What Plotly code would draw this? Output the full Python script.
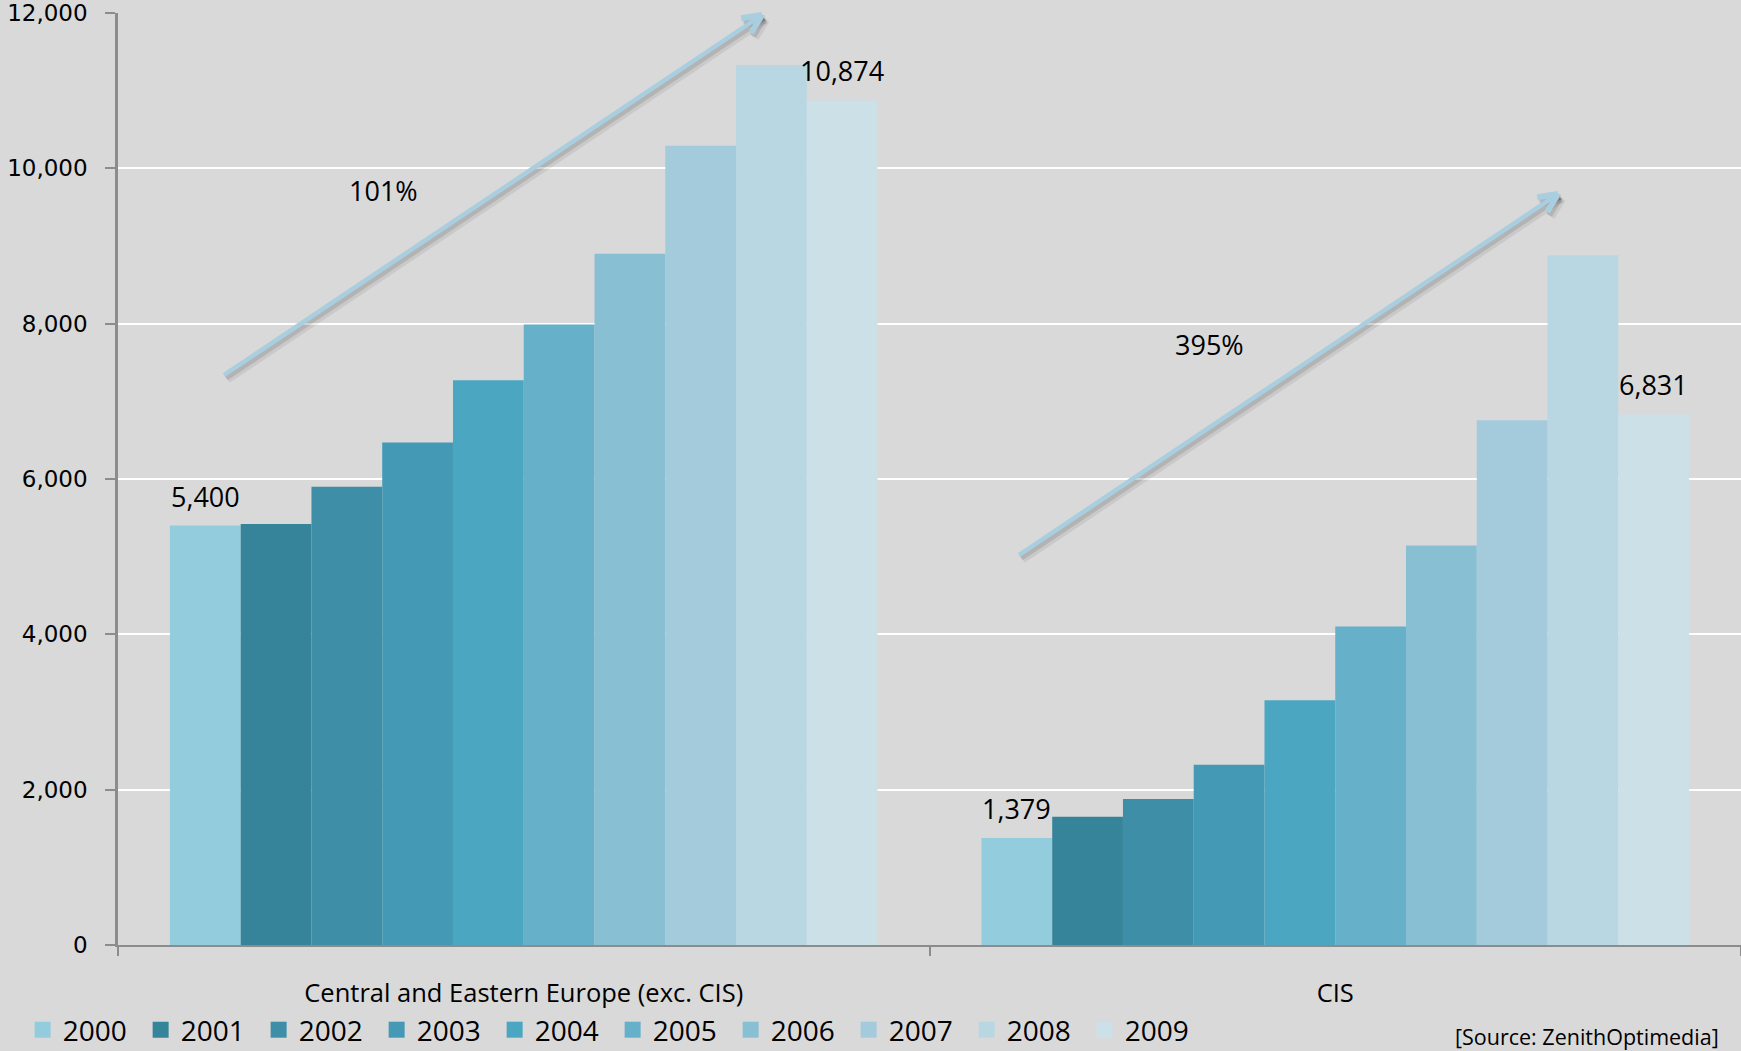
import math
import plotly.graph_objects as go

# Advertising expenditure by region, 2000-2009 (US$ m)
categories = ["Central and Eastern Europe (exc. CIS)", "CIS"]
years = ["2000", "2001", "2002", "2003", "2004", "2005", "2006", "2007", "2008", "2009"]
cee_spend = [5400, 5420, 5900, 6470, 7270, 7990, 8900, 10290, 11330, 10874]
cis_spend = [1379, 1650, 1880, 2320, 3150, 4100, 5145, 6756, 8880, 6831]
year_colors = ["#93CCDD", "#36849A", "#3D8EA6", "#449AB5", "#4AA6C1",
               "#66B0C9", "#89BFD2", "#A3CBDC", "#B8D7E2", "#CCE0E8"]
y_ticks = [0, 2000, 4000, 6000, 8000, 10000, 12000]
source_note = "[Source: ZenithOptimedia]"

W, H = 1741, 1051
ML, MR, MT, MB = 118, 0, 13, 106
PW, PH = W - ML - MR, H - MT - MB
BARGAP = 0.128

BG = "#D9D9D9"
AXIS_GREY = "#8C8C8C"
ARROW_BLUE = "#A8CEE0"
LABEL_FONT = "Open Sans, Liberation Sans, sans-serif"

fig = go.Figure()
for i, yr in enumerate(years):
    fig.add_trace(go.Bar(
        name=yr, legendgroup=yr, showlegend=False,
        x=categories,
        y=[cee_spend[i], cis_spend[i]],
        marker=dict(color=year_colors[i], line=dict(width=0)),
        hoverinfo="skip",
    ))
# Legend keys: larger square swatches than the default bar symbol
for i, yr in enumerate(years):
    fig.add_trace(go.Scatter(
        name=yr, legendgroup=yr, showlegend=True,
        x=[None], y=[None], mode="markers",
        marker=dict(symbol="square", size=16, color=year_colors[i]),
        hoverinfo="skip",
    ))


def bar_center(cat_idx, year_idx):
    group = 1 - BARGAP
    width = group / len(years)
    return cat_idx - group / 2 + width * (year_idx + 0.5)


annotations = []
series = [cee_spend, cis_spend]
for ci, vals in enumerate(series):
    for yi in (0, len(years) - 1):
        annotations.append(dict(
            x=bar_center(ci, yi), y=vals[yi], xref="x", yref="y",
            text=f"{vals[yi]:,}", showarrow=False,
            yanchor="bottom", xanchor="center", yshift=9,
            font=dict(family=LABEL_FONT, size=27, color="black"),
        ))


def to_paper(px, py):
    return (px - ML) / PW, (MT + PH - py) / PH


# Growth arrows (pixel geometry: tail -> tip)
arrows = [((224, 375), (762, 15)), ((1019, 555), (1558, 194))]
growth = [cee_spend[-1] / cee_spend[0] - 1, cis_spend[-1] / cis_spend[0] - 1]
growth_pos = [(383, 191), (1209, 344)]

shapes = []
for (tx, ty), (hx, hy) in arrows:
    ang = math.atan2(hy - ty, hx - tx)
    head_len, head_ang = 21, math.radians(25)
    arms = []
    for s in (1, -1):
        a = ang + math.pi + s * head_ang
        arms.append((hx + head_len * math.cos(a), hy + head_len * math.sin(a)))
    shaft = [((tx, ty), (hx, hy))]
    head = [((hx, hy), arm) for arm in arms]
    layers = (
        (3.5, 4.5, "rgba(0,0,0,0.07)", 8, 9),
        (2.0, 3.0, "rgba(0,0,0,0.11)", 5.5, 6.5),
        (0, 0, ARROW_BLUE, 4.5, 6),
    )
    for dx, dy, col, w_shaft, w_head in layers:
        for segs, w in ((shaft, w_shaft), (head, w_head)):
            for (x0, y0), (x1, y1) in segs:
                p0 = to_paper(x0 + dx, y0 + dy)
                p1 = to_paper(x1 + dx, y1 + dy)
                shapes.append(dict(type="line", xref="paper", yref="paper",
                                   x0=p0[0], y0=p0[1], x1=p1[0], y1=p1[1],
                                   line=dict(color=col, width=w), layer="above"))

for g, (px, py) in zip(growth, growth_pos):
    xp, yp = to_paper(px, py)
    annotations.append(dict(
        x=xp, y=yp, xref="paper", yref="paper", text=f"{g:.0%}",
        showarrow=False, xanchor="center", yanchor="middle",
        font=dict(family=LABEL_FONT, size=27, color="black"),
    ))

sx, sy = to_paper(1721, 1036)
annotations.append(dict(
    x=sx, y=sy, xref="paper", yref="paper",
    text=source_note, showarrow=False, xanchor="right", yanchor="middle",
    font=dict(family=LABEL_FONT, size=21.5, color="black"),
))

fig.update_layout(
    width=W, height=H,
    margin=dict(l=ML, r=MR, t=MT, b=MB, pad=0, autoexpand=False),
    paper_bgcolor=BG, plot_bgcolor=BG,
    barmode="group", bargap=BARGAP, bargroupgap=0,
    showlegend=True,
    legend=dict(
        orientation="h", xref="container", yref="container",
        x=0.013, y=1 - 1030 / H, xanchor="left", yanchor="middle",
        font=dict(family=LABEL_FONT, size=28, color="black"),
        bgcolor="rgba(0,0,0,0)", itemwidth=30,
        entrywidth=73, entrywidthmode="pixels", traceorder="normal",
    ),
    xaxis=dict(
        type="category", showgrid=False, tickson="boundaries", automargin=False,
        ticks="outside", ticklen=9, tickwidth=1.5, tickcolor=AXIS_GREY,
        showline=True, linecolor=AXIS_GREY, linewidth=2,
        tickfont=dict(family=LABEL_FONT, size=25.5, color="black"),
        ticklabelstandoff=24,
    ),
    yaxis=dict(
        range=[0, 12000], tickvals=y_ticks, tickformat=",", automargin=False,
        showgrid=True, gridcolor="white", gridwidth=1.5,
        zeroline=False,
        ticks="outside", ticklen=10, tickwidth=1.5, tickcolor=AXIS_GREY,
        showline=True, linecolor=AXIS_GREY, linewidth=2.5,
        tickfont=dict(family="DejaVu Sans, Verdana, sans-serif", size=23, color="black"),
        ticklabelstandoff=13,
    ),
    shapes=shapes,
    annotations=annotations,
)

fig.write_html("out.html")
